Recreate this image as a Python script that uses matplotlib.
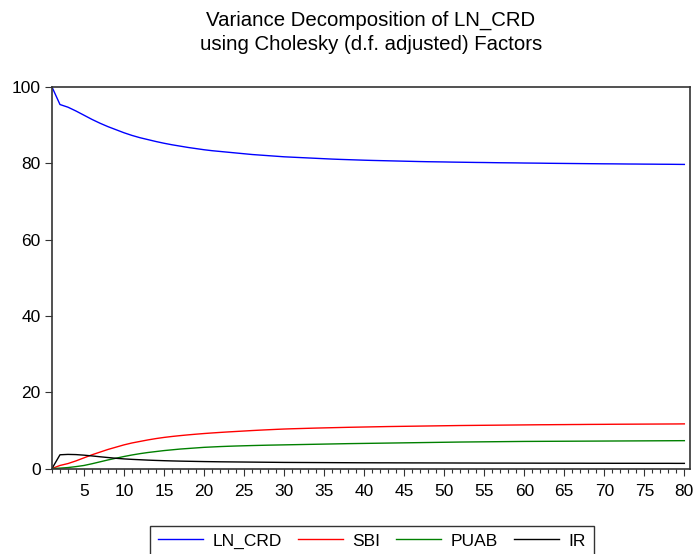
import numpy as np
import matplotlib
matplotlib.use("Agg")
import matplotlib.pyplot as plt
from matplotlib.ticker import MultipleLocator

plt.rcParams['font.family'] = ['Liberation Sans', 'DejaVu Sans']

# forecast horizon
periods = np.arange(1, 81)

# variance decomposition shares (percent)
ln_crd = [100.0, 95.4, 94.7, 93.7, 92.6, 91.5, 90.5, 89.6, 88.8, 88.0,
          87.3, 86.7, 86.2, 85.7, 85.25, 84.85, 84.5, 84.15, 83.85, 83.55,
          83.3, 83.1, 82.9, 82.7, 82.5, 82.3, 82.15, 82.0, 81.85, 81.7,
          81.6, 81.5, 81.4, 81.3, 81.2, 81.1, 81.02, 80.95, 80.88, 80.81,
          80.75, 80.7, 80.65, 80.6, 80.55, 80.5, 80.45, 80.41, 80.38, 80.35,
          80.31, 80.28, 80.25, 80.22, 80.2, 80.17, 80.14, 80.12, 80.1, 80.07,
          80.05, 80.03, 80.0, 79.98, 79.96, 79.94, 79.92, 79.9, 79.88, 79.86,
          79.85, 79.83, 79.81, 79.8, 79.78, 79.77, 79.75, 79.74, 79.72, 79.7]

sbi = [0.0, 0.8, 1.3, 2.0, 2.8, 3.6, 4.3, 5.0, 5.6, 6.2,
       6.7, 7.1, 7.5, 7.85, 8.15, 8.4, 8.62, 8.82, 9.0, 9.17,
       9.32, 9.46, 9.59, 9.71, 9.83, 9.95, 10.06, 10.16, 10.26, 10.35,
       10.42, 10.48, 10.54, 10.6, 10.65, 10.7, 10.75, 10.8, 10.84, 10.88,
       10.92, 10.96, 11.0, 11.03, 11.06, 11.09, 11.12, 11.15, 11.18, 11.21,
       11.24, 11.27, 11.29, 11.31, 11.33, 11.35, 11.37, 11.39, 11.41, 11.43,
       11.45, 11.47, 11.48, 11.5, 11.51, 11.53, 11.54, 11.56, 11.57, 11.58,
       11.6, 11.61, 11.62, 11.63, 11.64, 11.65, 11.66, 11.67, 11.68, 11.7]

puab = [0.0, 0.1, 0.25, 0.5, 0.8, 1.25, 1.75, 2.25, 2.7, 3.15,
        3.55, 3.9, 4.2, 4.45, 4.7, 4.9, 5.1, 5.25, 5.4, 5.55,
        5.65, 5.75, 5.83, 5.9, 5.96, 6.02, 6.07, 6.12, 6.16, 6.2,
        6.24, 6.28, 6.32, 6.36, 6.4, 6.44, 6.48, 6.52, 6.55, 6.58,
        6.61, 6.64, 6.67, 6.7, 6.73, 6.76, 6.79, 6.82, 6.85, 6.88,
        6.91, 6.94, 6.96, 6.98, 7.0, 7.02, 7.04, 7.06, 7.08, 7.1,
        7.11, 7.12, 7.13, 7.14, 7.15, 7.16, 7.17, 7.18, 7.19, 7.2,
        7.21, 7.22, 7.23, 7.24, 7.25, 7.26, 7.27, 7.28, 7.29, 7.3]

ir = [0.0, 3.6, 3.7, 3.65, 3.5, 3.3, 3.08, 2.88, 2.68, 2.52,
      2.4, 2.3, 2.2, 2.12, 2.05, 1.99, 1.94, 1.9, 1.86, 1.82,
      1.79, 1.76, 1.74, 1.72, 1.7, 1.68, 1.66, 1.64, 1.62, 1.6,
      1.59, 1.58, 1.57, 1.56, 1.55, 1.54, 1.53, 1.52, 1.51, 1.5,
      1.5, 1.49, 1.49, 1.48, 1.48, 1.47, 1.47, 1.46, 1.46, 1.45,
      1.45, 1.44, 1.44, 1.43, 1.43, 1.42, 1.42, 1.42, 1.41, 1.41,
      1.41, 1.4, 1.4, 1.4, 1.39, 1.39, 1.39, 1.38, 1.38, 1.38,
      1.37, 1.37, 1.37, 1.37, 1.36, 1.36, 1.36, 1.36, 1.35, 1.35]

series = [("LN_CRD", ln_crd, "#0000ff"),
          ("SBI", sbi, "#ff0000"),
          ("PUAB", puab, "#008000"),
          ("IR", ir, "#000000")]

fig = plt.figure(figsize=(6.93, 5.54), dpi=100)
ax = fig.add_axes([0.075, 0.1543, 0.9206, 0.6887])

for name, vals, col in series:
    ax.plot(periods, vals, color=col, lw=1.0, label=name)

ax.set_xlim(1, 80.7)
ax.set_ylim(0, 100)
ax.set_yticks([0, 20, 40, 60, 80, 100])
ax.set_xticks(np.arange(5, 81, 5))
ax.xaxis.set_minor_locator(MultipleLocator(1))
ax.tick_params(axis='both', which='major', labelsize=12.5, direction='out',
               length=5, width=0.8, color='#333333')
ax.tick_params(axis='x', which='minor', direction='out', length=3,
               width=0.8, color='#333333')
ax.tick_params(axis='x', pad=6)
ax.tick_params(axis='y', pad=3)
for s in ax.spines.values():
    s.set_color('#333333')
    s.set_linewidth(1.2)

fig.text(371 / 693, 1 - 20 / 554, "Variance Decomposition of LN_CRD",
         ha='center', va='center', fontsize=14.7)
fig.text(371 / 693, 1 - 45 / 554, "using Cholesky (d.f. adjusted) Factors",
         ha='center', va='center', fontsize=14.7)

leg = fig.legend(loc='center', bbox_to_anchor=(372 / 693, 1 - 541 / 554),
                 ncol=4, fontsize=12.5, frameon=True, fancybox=False,
                 handlelength=2.6, handletextpad=0.55, columnspacing=0.9,
                 borderpad=0.45)
leg.get_frame().set_edgecolor('black')
leg.get_frame().set_linewidth(1.0)

fig.savefig("out.png", dpi=100)
